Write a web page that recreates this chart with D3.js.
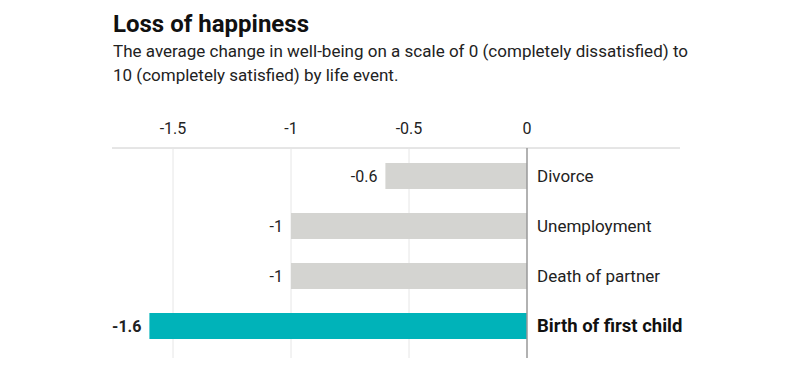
<!DOCTYPE html>
<html lang="en">
<head>
<meta charset="UTF-8">
<title>Loss of happiness</title>
<script src="https://cdn.jsdelivr.net/npm/d3@7"></script>
<style>
  body { margin: 0; background: #fff; }
  text { font-family: Roboto, "Liberation Sans", sans-serif; fill: #222; }
</style>
</head>
<body>
<svg width="800" height="371"></svg>
<script>
// data
var events = ["Divorce", "Unemployment", "Death of partner", "Birth of first child"];
var changes = [-0.6, -1, -1, -1.6];
var highlight = [false, false, false, true];
var ticks = [-1.5, -1, -0.5, 0];

var svg = d3.select("svg");

svg.append("text").attr("x", 113).attr("y", 32)
  .style("font-size", "24px").style("font-weight", "bold").style("fill", "#111")
  .text("Loss of happiness");
svg.append("text").attr("x", 113).attr("y", 57)
  .style("font-size", "17px")
  .attr("textLength", 575)
  .text("The average change in well-being on a scale of 0 (completely dissatisfied) to");
svg.append("text").attr("x", 113).attr("y", 81)
  .style("font-size", "17px")
  .text("10 (completely satisfied) by life event.");

var x = d3.scaleLinear().domain([-1, 0]).range([291, 527]);
var y = d3.scaleBand().domain(events).range([151, 351]).paddingInner(0.48).paddingOuter(0.24);

var yTop = 148, yBottom = 358;

// grid
svg.append("line").attr("x1", 112).attr("x2", 680).attr("y1", yTop).attr("y2", yTop)
  .style("stroke", "#ccc").style("stroke-width", 1);
svg.selectAll(".grid").data(ticks.slice(0, 3)).enter().append("line")
  .attr("x1", d => x(d)).attr("x2", d => x(d)).attr("y1", yTop).attr("y2", yBottom)
  .style("stroke", "#e6e6e6").style("stroke-width", 1);

// tick labels
svg.selectAll(".tick").data(ticks).enter().append("text")
  .attr("x", d => x(d)).attr("y", 134)
  .attr("text-anchor", "middle")
  .style("font-size", "16px")
  .text(d => String(d));

// bars
svg.selectAll(".bar").data(events).enter().append("rect")
  .attr("x", (d, i) => x(changes[i]))
  .attr("width", (d, i) => x(0) - x(changes[i]))
  .attr("y", d => y(d))
  .attr("height", y.bandwidth())
  .style("fill", (d, i) => highlight[i] ? "#00b3b9" : "#d4d4d1");

// zero line
svg.append("line").attr("x1", x(0)).attr("x2", x(0)).attr("y1", yTop).attr("y2", yBottom)
  .style("stroke", "#999").style("stroke-width", 1.5);

// value labels
svg.selectAll(".val").data(events).enter().append("text")
  .attr("x", (d, i) => x(changes[i]) - 8)
  .attr("y", d => y(d) + y.bandwidth() / 2)
  .attr("dy", "0.35em")
  .attr("text-anchor", "end")
  .style("font-size", "16px")
  .style("font-weight", (d, i) => highlight[i] ? "bold" : "normal")
  .text((d, i) => String(changes[i]));

// category labels
svg.selectAll(".cat").data(events).enter().append("text")
  .attr("x", x(0) + 10)
  .attr("y", d => y(d) + y.bandwidth() / 2)
  .attr("dy", "0.35em")
  .style("font-size", (d, i) => highlight[i] ? "18.5px" : "17px")
  .style("font-weight", (d, i) => highlight[i] ? "bold" : "normal")
  .style("fill", (d, i) => highlight[i] ? "#111" : "#222")
  .text(d => d);
</script>
</body>
</html>
